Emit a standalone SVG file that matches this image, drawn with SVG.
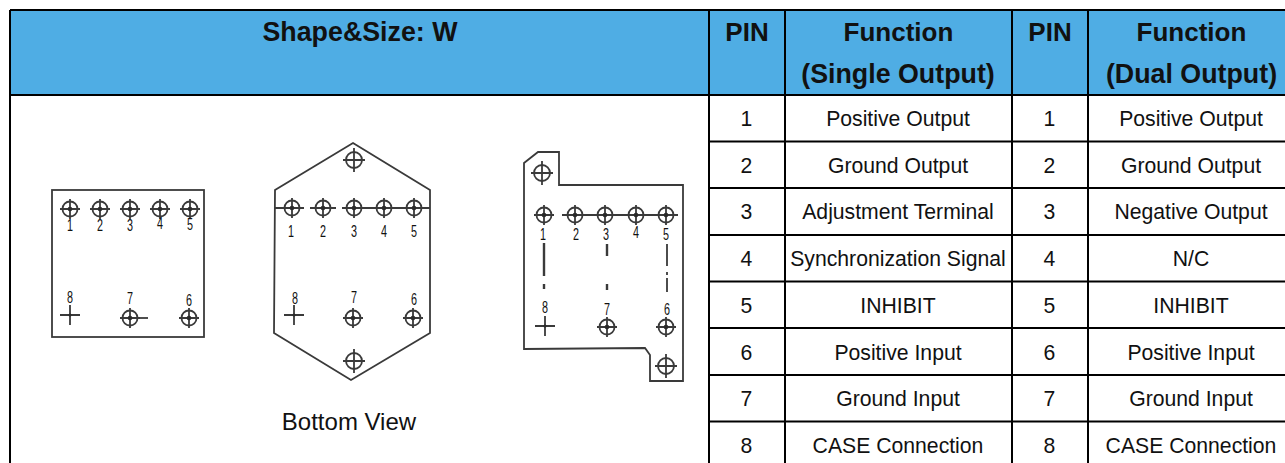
<svg xmlns="http://www.w3.org/2000/svg" width="1285" height="463" viewBox="0 0 1285 463">
<style>
text{font-family:"Liberation Sans",Arial,sans-serif;fill:#111;text-anchor:middle}
.h{font-size:26px;font-weight:bold}
.w{font-size:26.800px;font-weight:bold}
.b{font-size:21.200px}
.v{font-size:24px}
.n{font-size:16px;fill:#444}
.g{fill:none;stroke:#000;stroke-width:2}
.o{fill:none;stroke:#3a3a3a;stroke-width:1.800}
.t{fill:none;stroke:#3a3a3a;stroke-width:1.800}
.k{fill:none;stroke:#3a3a3a;stroke-width:2.400}
</style>
<defs>
<g id="pin" class="o"><circle r="7.500"/><path d="M-10 0H10M0-10V10"/><circle r="2.300" fill="#2a2a2a" stroke="none"/></g>
<g id="hole" class="o"><circle r="8"/><path d="M-11 0H11M0-12V12"/></g>
<g id="cross"><path class="o" d="M-10 0H10M0-10V10"/><circle r="1.500" fill="#2a2a2a"/></g>
</defs>
<rect width="1285" height="463" fill="#fff"/>
<rect x="10" y="10" width="1275" height="85" fill="#4fade4"/>
<g id="grid" class="g">
<path d="M10 10H1285M10 95H1285M10 10V463M709 10V463M785 10V463M1012 10V463M1088 10V463"/>
<path d="M709 141.500H1285M709 188H1285M709 235H1285M709 281.500H1285M709 328H1285M709 375H1285M709 421.500H1285"/>
</g>
<g id="header">
<text class="w" x="360" y="41">Shape&amp;Size: W</text>
<text class="h" x="747" y="41">PIN</text>
<text class="h" x="898.500" y="41">Function</text>
<text class="w" x="898" y="83">(Single Output)</text>
<text class="h" x="1050" y="41">PIN</text>
<text class="h" x="1191.500" y="41">Function</text>
<text class="w" x="1191.500" y="83">(Dual Output)</text>
</g>
<g id="rows" class="b">
<text x="746.500" y="126">1</text><text x="898" y="126">Positive Output</text><text x="1049.500" y="126">1</text><text x="1191" y="126">Positive Output</text>
<text x="746.500" y="173">2</text><text x="898" y="173">Ground Output</text><text x="1049.500" y="173">2</text><text x="1191" y="173">Ground Output</text>
<text x="746.500" y="219">3</text><text x="898" y="219">Adjustment Terminal</text><text x="1049.500" y="219">3</text><text x="1191" y="219">Negative Output</text>
<text x="746.500" y="266">4</text><text x="898" y="266">Synchronization Signal</text><text x="1049.500" y="266">4</text><text x="1191" y="266">N/C</text>
<text x="746.500" y="313">5</text><text x="898" y="313">INHIBIT</text><text x="1049.500" y="313">5</text><text x="1191" y="313">INHIBIT</text>
<text x="746.500" y="360">6</text><text x="898" y="360">Positive Input</text><text x="1049.500" y="360">6</text><text x="1191" y="360">Positive Input</text>
<text x="746.500" y="406">7</text><text x="898" y="406">Ground Input</text><text x="1049.500" y="406">7</text><text x="1191" y="406">Ground Input</text>
<text x="746.500" y="453">8</text><text x="898" y="453">CASE Connection</text><text x="1049.500" y="453">8</text><text x="1191" y="453">CASE Connection</text>
</g>
<g id="drawing-square">
<rect class="t" x="52" y="190" width="152" height="147"/>
<use href="#pin" x="70" y="209"/><use href="#pin" x="100" y="209"/><use href="#pin" x="130" y="209"/><use href="#pin" x="160" y="209"/><use href="#pin" x="190" y="209"/>
<use href="#cross" x="70" y="315"/><use href="#pin" x="130" y="318"/><use href="#pin" x="189" y="318"/>
<path class="o" d="M138 318H148"/>
<g class="n">
<text x="70" y="231" textLength="6" lengthAdjust="spacingAndGlyphs">1</text><text x="100" y="231" textLength="6" lengthAdjust="spacingAndGlyphs">2</text><text x="130" y="231" textLength="6" lengthAdjust="spacingAndGlyphs">3</text><text x="160" y="229" textLength="6" lengthAdjust="spacingAndGlyphs">4</text><text x="190" y="230" textLength="6" lengthAdjust="spacingAndGlyphs">5</text>
<text x="70" y="303" textLength="6" lengthAdjust="spacingAndGlyphs">8</text><text x="130" y="304" textLength="6" lengthAdjust="spacingAndGlyphs">7</text><text x="189" y="306" textLength="6" lengthAdjust="spacingAndGlyphs">6</text>
</g>
</g>
<g id="drawing-hexagon">
<path class="t" d="M353 143L430 190V333L351 380L274 333L275 190Z"/>
<path class="o" d="M275 208H304M310 208H336M342 208H430"/>
<use href="#hole" x="354" y="160"/><use href="#hole" x="354" y="361"/>
<use href="#pin" x="292" y="208"/><use href="#pin" x="323" y="208"/><use href="#pin" x="354" y="208"/><use href="#pin" x="384" y="208"/><use href="#pin" x="414" y="208"/>
<use href="#cross" x="294" y="315"/><use href="#pin" x="353" y="318"/><use href="#pin" x="413" y="318"/>
<g class="n">
<text x="291" y="237" textLength="6" lengthAdjust="spacingAndGlyphs">1</text><text x="323" y="237" textLength="6" lengthAdjust="spacingAndGlyphs">2</text><text x="354" y="237" textLength="6" lengthAdjust="spacingAndGlyphs">3</text><text x="384" y="237" textLength="6" lengthAdjust="spacingAndGlyphs">4</text><text x="414" y="237" textLength="6" lengthAdjust="spacingAndGlyphs">5</text>
<text x="295" y="304" textLength="6" lengthAdjust="spacingAndGlyphs">8</text><text x="354" y="303" textLength="6" lengthAdjust="spacingAndGlyphs">7</text><text x="414" y="305" textLength="6" lengthAdjust="spacingAndGlyphs">6</text>
</g>
</g>
<g id="drawing-flange">
<path class="t" d="M524 163L538 152H559V185H683V381H650V355L645 348L524 349Z"/>
<path class="o" d="M562 215H678"/>
<use href="#hole" x="542" y="173"/><use href="#hole" x="666" y="366"/>
<use href="#pin" x="544" y="215"/><use href="#pin" x="575" y="215"/><use href="#pin" x="605" y="215"/><use href="#pin" x="636" y="215"/><use href="#pin" x="666" y="215"/>
<use href="#cross" x="545" y="326"/><use href="#pin" x="607" y="327"/><use href="#pin" x="666" y="327"/>
<path class="k" d="M544 243V276M544 284V289M607 244V256M607 284V290"/>
<path class="o" d="M667 244V266M667 272V275M667 278V292"/>
<g class="n">
<text x="543" y="240" textLength="6" lengthAdjust="spacingAndGlyphs">1</text><text x="576" y="240" textLength="6" lengthAdjust="spacingAndGlyphs">2</text><text x="606" y="240" textLength="6" lengthAdjust="spacingAndGlyphs">3</text><text x="636" y="238" textLength="6" lengthAdjust="spacingAndGlyphs">4</text><text x="666" y="240" textLength="6" lengthAdjust="spacingAndGlyphs">5</text>
<text x="545" y="313" textLength="6" lengthAdjust="spacingAndGlyphs">8</text><text x="607" y="315" textLength="6" lengthAdjust="spacingAndGlyphs">7</text><text x="667" y="315" textLength="6" lengthAdjust="spacingAndGlyphs">6</text>
</g>
</g>
<text class="v" x="349" y="430">Bottom View</text>
</svg>
